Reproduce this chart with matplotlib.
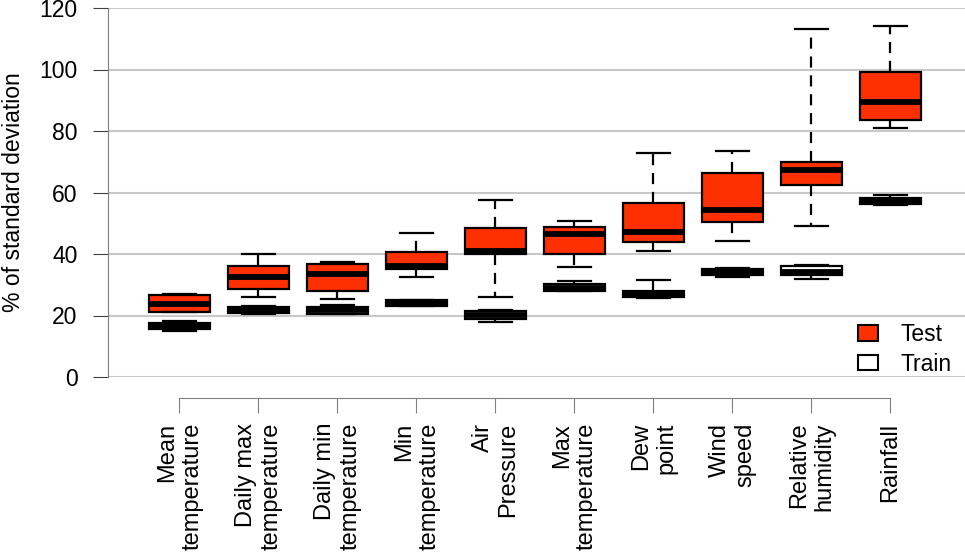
import numpy as np
import matplotlib
matplotlib.use("Agg")
import matplotlib.pyplot as plt
from matplotlib.patches import Patch

plt.rcParams['font.family'] = ['Liberation Sans', 'DejaVu Sans']

categories = ["Mean\ntemperature", "Daily max\ntemperature", "Daily min\ntemperature",
              "Min\ntemperature", "Air\nPressure", "Max\ntemperature", "Dew\npoint",
              "Wind\nspeed", "Relative\nhumidity", "Rainfall"]

# test set (red boxes)
test_whislo = [21.0, 25.9, 25.3, 32.6, 26.0, 35.8, 41.0, 44.1, 49.2, 80.9]
test_q1     = [21.1, 28.6, 27.9, 35.1, 39.9, 39.9, 43.8, 50.3, 62.6, 83.7]
test_med    = [23.7, 32.4, 33.5, 36.1, 41.0, 46.4, 47.3, 54.3, 67.4, 89.3]
test_q3     = [26.7, 36.1, 36.7, 40.5, 48.6, 48.8, 56.5, 66.2, 69.8, 99.3]
test_whishi = [26.9, 40.1, 37.3, 46.7, 57.5, 50.7, 72.8, 73.5, 113.2, 114.3]

# train set (white boxes)
train_whislo = [15.1, 20.5, 20.5, 23.0, 18.0, 28.0, 25.8, 32.6, 31.8, 56.0]
train_q1     = [15.6, 20.7, 20.6, 23.2, 18.9, 28.1, 25.9, 33.2, 33.1, 56.1]
train_med    = [16.7, 21.8, 21.7, 24.1, 20.2, 29.0, 27.0, 34.2, 34.3, 57.2]
train_q3     = [17.7, 22.9, 22.9, 25.0, 21.6, 30.1, 28.0, 35.2, 36.2, 58.3]
train_whishi = [18.2, 23.1, 23.3, 25.2, 21.7, 31.3, 31.5, 35.5, 36.3, 59.2]

yticks = [0, 20, 40, 60, 80, 100, 120]
red = '#ff3000'


def make_stats(lo, q1, med, q3, hi):
    return [dict(whislo=a, q1=b, med=c, q3=d, whishi=e, fliers=[])
            for a, b, c, d, e in zip(lo, q1, med, q3, hi)]


def draw(ax, stats, face):
    pos = np.arange(1, len(stats) + 1)
    ax.bxp(stats, positions=pos, widths=0.78, capwidths=0.41, patch_artist=True,
           showfliers=False, manage_ticks=False,
           boxprops=dict(facecolor=face, edgecolor='black', linewidth=1.6),
           medianprops=dict(color='black', linewidth=4.2, solid_capstyle='butt'),
           whiskerprops=dict(color='black', linewidth=1.6, linestyle=(0, (5, 3.5))),
           capprops=dict(color='black', linewidth=1.6), zorder=3)


fig = plt.figure(figsize=(9.65, 5.52), dpi=100)
ax = fig.add_axes([108 / 965, 1 - 377 / 552, 1 - 108 / 965, 369 / 552])

draw(ax, make_stats(test_whislo, test_q1, test_med, test_q3, test_whishi), red)
draw(ax, make_stats(train_whislo, train_q1, train_med, train_q3, train_whishi), 'white')

ax.set_ylim(0, 120)
ax.set_xlim(0.095, 10.945)
ax.set_yticks(yticks)
ax.yaxis.grid(True, color='#c8c8c8', linewidth=1.5, zorder=0)
ax.set_axisbelow(True)

for s in ['top', 'right']:
    ax.spines[s].set_visible(False)
ax.spines['left'].set_color('#808080')
ax.spines['bottom'].set_color('#808080')
ax.spines['bottom'].set_position(('outward', 15))
ax.spines['bottom'].set_bounds(1, 10)

ax.set_xticks(np.arange(1, 11))
ax.set_xticklabels(categories, rotation=90, fontsize=17, va='top', ha='center',
                   multialignment='right')
ax.tick_params(axis='x', length=10.5, color='#808080', pad=7.5)
ax.tick_params(axis='y', length=11, color='#404040', pad=11, labelsize=16.5)
ax.set_ylabel('% of standard deviation', fontsize=16.5)
ax.yaxis.set_label_coords(-0.097, 0.5)

handles = [Patch(facecolor=red, edgecolor='black', linewidth=1.5, label='Test'),
           Patch(facecolor='white', edgecolor='black', linewidth=1.5, label='Train')]
ax.legend(handles=handles, loc='lower right',
          bbox_to_anchor=(1.0 - 4 / 857, -8 / 369),
          frameon=False, fontsize=16.5,
          handlelength=0.85, handleheight=0.65, handletextpad=1.0,
          labelspacing=0.3, borderaxespad=0.0)

fig.savefig('out.png', dpi=100)
